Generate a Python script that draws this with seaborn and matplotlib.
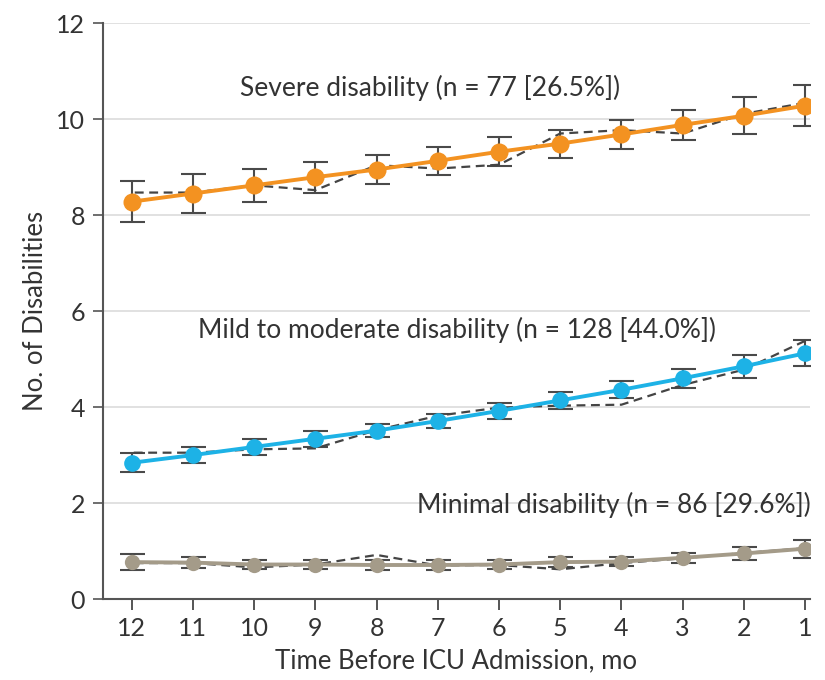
import numpy as np
import pandas as pd
import matplotlib
matplotlib.use("Agg")
import matplotlib.pyplot as plt
import seaborn as sns

months = [12, 11, 10, 9, 8, 7, 6, 5, 4, 3, 2, 1]

# Model-estimated mean number of disabilities (solid lines) and 95% CI half-widths
severe_fit = [8.28, 8.45, 8.62, 8.79, 8.95, 9.13, 9.32, 9.49, 9.68, 9.88, 10.07, 10.28]
severe_ci = [0.43, 0.40, 0.35, 0.32, 0.30, 0.29, 0.30, 0.29, 0.30, 0.32, 0.39, 0.43]
mild_fit = [2.84, 3.00, 3.17, 3.34, 3.51, 3.71, 3.92, 4.14, 4.36, 4.60, 4.85, 5.12]
mild_ci = [0.20, 0.17, 0.16, 0.17, 0.14, 0.15, 0.17, 0.17, 0.18, 0.20, 0.24, 0.27]
minimal_fit = [0.77, 0.76, 0.72, 0.72, 0.71, 0.71, 0.72, 0.77, 0.78, 0.86, 0.95, 1.05]
minimal_ci = [0.16, 0.12, 0.10, 0.10, 0.10, 0.10, 0.10, 0.10, 0.10, 0.11, 0.13, 0.19]

# Observed means (dashed lines)
severe_obs = [8.47, 8.47, 8.62, 8.52, 9.04, 8.97, 9.05, 9.70, 9.77, 9.70, 10.11, 10.34]
mild_obs = [3.05, 3.05, 3.12, 3.14, 3.52, 3.82, 3.99, 4.03, 4.05, 4.46, 4.78, 5.38]
minimal_obs = [0.75, 0.75, 0.66, 0.72, 0.92, 0.70, 0.71, 0.62, 0.75, 0.85, 0.96, 1.06]

groups = ["Severe disability (n = 77 [26.5%])",
          "Mild to moderate disability (n = 128 [44.0%])",
          "Minimal disability (n = 86 [29.6%])"]
colors = ["#F39221", "#1DB2E6", "#A49B89"]
marker_sizes = [13, 12, 11]

rows = []
for g, fit, ci, obs in zip(groups,
                           [severe_fit, mild_fit, minimal_fit],
                           [severe_ci, mild_ci, minimal_ci],
                           [severe_obs, mild_obs, minimal_obs]):
    for m, f, c, o in zip(months, fit, ci, obs):
        rows.append({"group": g, "month": m, "fit": f, "ci": c, "obs": o})
df = pd.DataFrame(rows)

sns.set_style("white")
plt.rcParams["font.family"] = ["Lato", "DejaVu Sans"]

fig = plt.figure(figsize=(8.25, 6.8), dpi=100)
ax = fig.add_axes([0.1248, 0.119, 0.857, 0.847])

text_c = "#333333"
for g, col, ms in zip(groups, colors, marker_sizes):
    d = df[df["group"] == g]
    sns.lineplot(data=d, x="month", y="obs", ax=ax, color="#444444",
                 linestyle=(0, (4, 2.5)), linewidth=1.6, zorder=3, legend=False)
    ax.errorbar(d["month"], d["fit"], yerr=d["ci"], fmt="none",
                ecolor="#4a4a4a", elinewidth=1.5, capsize=9, capthick=1.5, zorder=2)
    sns.lineplot(data=d, x="month", y="fit", ax=ax, color=col, linewidth=2.8,
                 marker="o", markersize=ms, markeredgewidth=0, zorder=4, legend=False)

ax.set_xlim(12.47, 0.92)
ax.set_ylim(0, 12)
ax.set_xticks(months)
ax.set_xticklabels([str(m) for m in months])
ax.set_yticks([0, 2, 4, 6, 8, 10, 12])

# Group labels placed above each trajectory
label_pos = [(430, 88), (457, 330), (614, 505)]
for (px, py), g in zip(label_pos, groups):
    ax.annotate(g, xy=(px, 680 - py), xycoords="figure pixels", fontsize=19,
                color=text_c, ha="center", va="center")

ax.yaxis.grid(True, color="#dcdcdc", linewidth=1.2)
ax.set_axisbelow(True)
for s in ["top", "right"]:
    ax.spines[s].set_visible(False)
for s in ["left", "bottom"]:
    ax.spines[s].set_color("#555555")
    ax.spines[s].set_linewidth(1.5)
ax.tick_params(axis="x", bottom=True, direction="out", length=8, width=1.4, color="#555555",
               labelsize=18, labelcolor=text_c, pad=5)
ax.tick_params(axis="y", left=True, direction="out", length=7, width=1.2, color="#555555",
               labelsize=18, labelcolor=text_c, pad=6)
ax.set_xlabel("Time Before ICU Admission, mo", fontsize=18.5, color=text_c, labelpad=6)
ax.set_ylabel("No. of Disabilities", fontsize=18.5, color=text_c, labelpad=6)

fig.savefig("out.png", dpi=100, facecolor="white")
